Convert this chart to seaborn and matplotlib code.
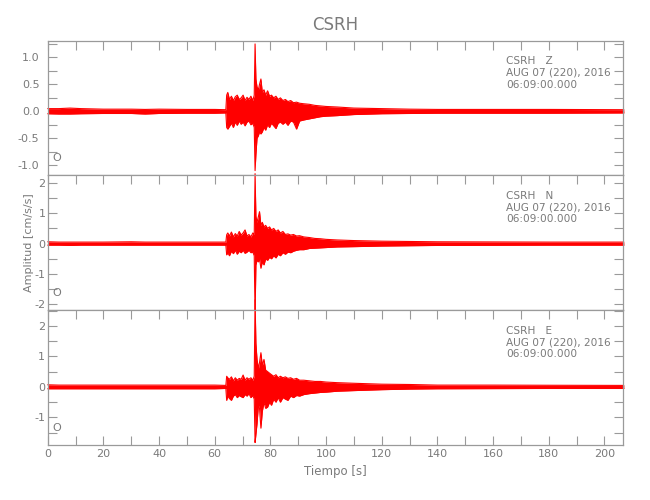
import matplotlib
matplotlib.use("Agg")
import numpy as np
import pandas as pd
import matplotlib.pyplot as plt
import matplotlib.ticker as ticker
import seaborn as sns

# knot times (s) and trace envelope (max / min per time slice)
t_knots = [
    0, 4, 8, 12, 20, 30, 35, 40, 50, 60,
    64.0, 64.3, 64.7, 65.3, 66.0, 66.7, 67.4, 68.1, 68.8, 69.5,
    70.2, 70.9, 71.6, 72.3, 73.0, 73.7, 74.2, 74.5, 74.8, 75.2,
    75.7, 76.1, 76.6, 77.1, 77.7, 78.3, 79.0, 79.7, 80.4, 81.2,
    82.0, 82.8, 83.6, 84.5, 85.4, 86.3, 87.3, 88.3, 89.4, 90.5,
    92, 94, 96, 98, 100, 104, 110, 120, 130, 140,
    160, 180, 207]

z_up = [
    .05, .05, .06, .05, .04, .04, .035, .04, .035, .035,
    .03, .30, .35, .22, .28, .20, .27, .30, .22, .25,
    .30, .20, .26, .22, .28, .20, .30, 1.25, .60, .45,
    .40, .50, .60, .35, .40, .30, .38, .28, .30, .25,
    .28, .22, .25, .20, .22, .18, .20, .16, .17, .15,
    .14, .13, .11, .10, .09, .08, .06, .05, .04, .035,
    .035, .035, .03]
z_lo = [
    -.045, -.05, -.05, -.045, -.04, -.04, -.05, -.04, -.035, -.035,
    -.03, -.30, -.33, -.28, -.22, -.30, -.20, -.26, -.18, -.24,
    -.20, -.27, -.20, -.18, -.25, -.22, -.30, -1.10, -.80, -.50,
    -.45, -.38, -.42, -.38, -.30, -.35, -.25, -.30, -.22, -.27,
    -.32, -.22, -.20, -.24, -.20, -.26, -.18, -.20, -.33, -.18,
    -.16, -.14, -.12, -.10, -.09, -.08, -.06, -.045, -.04, -.035,
    -.035, -.035, -.03]

n_up = [
    .06, .05, .05, .05, .05, .06, .05, .05, .05, .05,
    .05, .29, .35, .25, .38, .22, .33, .25, .40, .28,
    .35, .45, .25, .30, .22, .35, .30, 2.30, .90, .70,
    .89, 1.05, .60, .70, .55, .60, .50, .55, .45, .50,
    .40, .45, .35, .40, .30, .32, .28, .30, .25, .26,
    .22, .20, .17, .16, .14, .12, .10, .08, .07, .06,
    .055, .05, .05]
n_lo = [
    -.05, -.05, -.06, -.05, -.05, -.05, -.05, -.05, -.05, -.05,
    -.05, -.37, -.30, -.40, -.25, -.33, -.22, -.35, -.25, -.30,
    -.22, -.32, -.28, -.22, -.30, -.28, -.40, -2.35, -.70, -.55,
    -.60, -.50, -.81, -.60, -.70, -.50, -.55, -.45, -.50, -.40,
    -.47, -.35, -.40, -.30, -.35, -.28, -.30, -.25, -.22, -.20,
    -.20, -.16, -.15, -.14, -.13, -.11, -.10, -.08, -.07, -.06,
    -.055, -.05, -.05]

e_up = [
    .07, .06, .06, .06, .06, .06, .06, .06, .06, .06,
    .05, .35, .30, .25, .33, .20, .30, .22, .28, .25,
    .39, .22, .30, .25, .30, .22, .35, 2.85, 1.43, .90,
    .60, .80, 1.12, .70, .90, .55, .50, .45, .40, .35,
    .40, .30, .35, .30, .33, .28, .30, .25, .28, .22,
    .22, .20, .18, .18, .16, .14, .12, .09, .08, .06,
    .06, .055, .05]
e_lo = [
    -.06, -.06, -.06, -.06, -.06, -.06, -.06, -.06, -.06, -.06,
    -.05, -.44, -.30, -.38, -.44, -.30, -.25, -.35, -.28, -.32,
    -.35, -.25, -.30, -.22, -.35, -.28, -.40, -1.82, -1.55, -1.20,
    -.60, -.70, -1.35, -.80, -.50, -.70, -.66, -.50, -.60, -.40,
    -.50, -.35, -.50, -.35, -.40, -.44, -.30, -.35, -.28, -.30,
    -.25, -.22, -.20, -.18, -.17, -.14, -.12, -.09, -.07, -.06,
    -.055, -.05, -.05]

components = ['Z', 'N', 'E']
ylims = [(-1.19, 1.31), (-2.19, 2.24), (-1.90, 2.51)]
ymajor = [0.5, 1, 1]
yminor = [0.25, 0.5, 0.5]
yfmt = ['%.1f', '%d', '%d']
ypad = [6, 1.5, 1.8]
station = 'CSRH'
date_txt = 'AUG 07 (220), 2016'
time_txt = '06:09:00.000'

frames = []
for comp, up, lo in zip(components, [z_up, n_up, e_up], [z_lo, n_lo, e_lo]):
    frames.append(pd.DataFrame({'time': t_knots, 'upper': up, 'lower': lo, 'comp': comp}))
df = pd.concat(frames, ignore_index=True)

sns.set_style('ticks')
plt.rcParams['font.family'] = ['DejaVu Sans']
grey = '#7a7a7a'
frame_grey = '#9a9a9a'

fig, axes = plt.subplots(3, 1, figsize=(6.5, 5), dpi=100, sharex=True)
plt.subplots_adjust(left=0.0734, right=0.9585, top=0.9186, bottom=0.11, hspace=0)

for i, (ax, comp) in enumerate(zip(axes, components)):
    d = df[df['comp'] == comp]
    ax.fill_between(d['time'], d['lower'], d['upper'], color='red', lw=0, clip_on=False)
    sns.lineplot(data=d, x='time', y='upper', ax=ax, color='red', lw=0.8,
                 legend=False, errorbar=None, clip_on=False)
    sns.lineplot(data=d, x='time', y='lower', ax=ax, color='red', lw=0.8,
                 legend=False, errorbar=None, clip_on=False)
    ax.set_xlim(0, 206.7)
    ax.set_ylim(*ylims[i])
    ax.set_xlabel('')
    ax.set_ylabel('')
    ax.xaxis.set_major_locator(ticker.MultipleLocator(20))
    ax.xaxis.set_minor_locator(ticker.MultipleLocator(10))
    ax.yaxis.set_major_locator(ticker.MultipleLocator(ymajor[i]))
    ax.yaxis.set_minor_locator(ticker.MultipleLocator(yminor[i]))
    ax.yaxis.set_major_formatter(ticker.FormatStrFormatter(yfmt[i]))
    last = (i == 2)
    ax.tick_params(axis='both', which='both', direction='in', length=6.5, width=0.8,
                   color=frame_grey, labelcolor=grey, labelsize=8,
                   top=True, right=True, bottom=last, labelbottom=last)
    ax.tick_params(axis='y', pad=ypad[i])
    ax.tick_params(axis='x', pad=3)
    for sp in ax.spines.values():
        sp.set_visible(True)
        sp.set_color(frame_grey)
        sp.set_linewidth(0.9)
    ax.text(0.797, 0.885, '%s   %s\n%s\n%s' % (station, comp, date_txt, time_txt),
            transform=ax.transAxes, ha='left', va='top', fontsize=7.6,
            color=grey, linespacing=1.22)
    ax.text(0.008, 0.09, 'O', transform=ax.transAxes, ha='left', va='bottom',
            fontsize=8, color=grey)

axes[0].set_title(station, fontsize=12, color=grey, pad=8)
axes[1].set_ylabel('Amplitud [cm/s/s]', fontsize=8, color=grey)
axes[1].yaxis.set_label_coords(-0.024, 0.5)
axes[2].set_xlabel('Tiempo [s]', fontsize=8.5, color=grey)
axes[2].xaxis.set_label_coords(0.5, -0.15)

fig.savefig('out.png', dpi=100)
